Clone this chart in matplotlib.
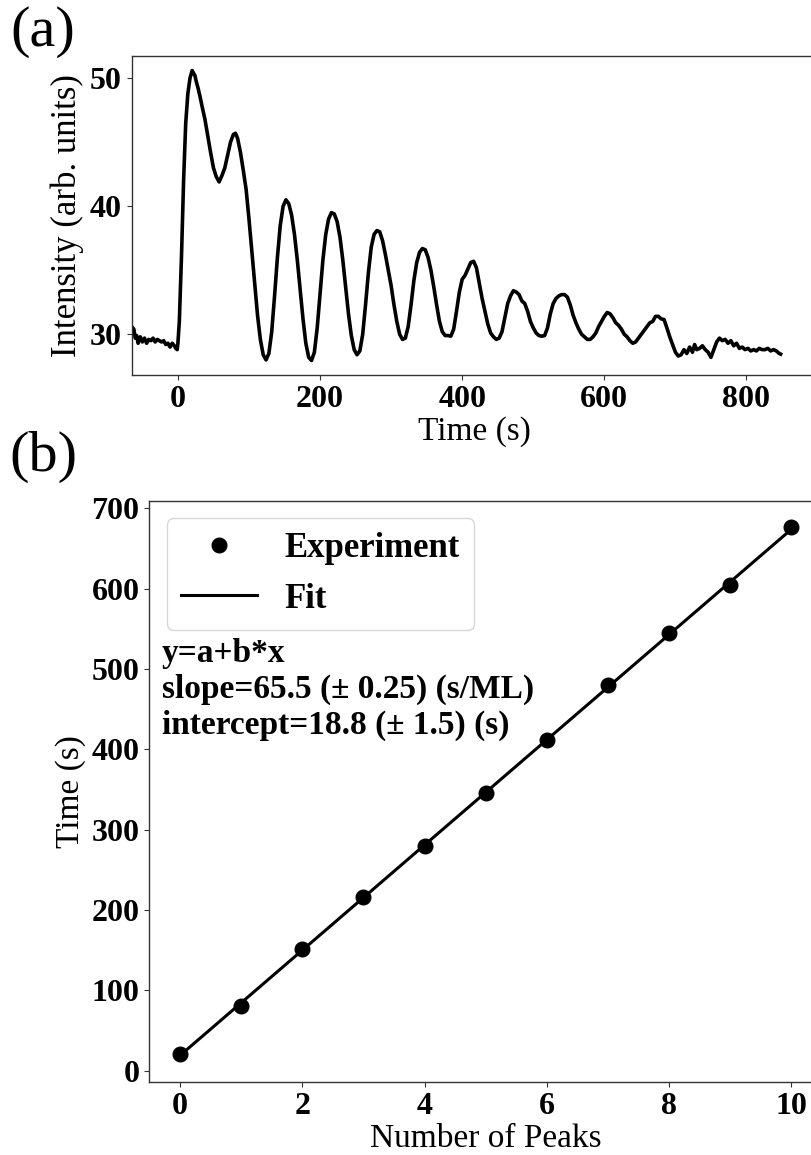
import matplotlib
matplotlib.use("Agg")
import matplotlib.pyplot as plt
import numpy as np

plt.rcParams['font.family'] = ['Liberation Serif', 'DejaVu Serif']

# panel (a): intensity trace
time_s = [-65, -62, -60, -58, -56, -53, -50, -47, -44, -41, -38, -35, -32, -29, -26, -23, -20, -17, -14, -11, -8, -5, -3, -1, 0,
          2, 5, 8, 11, 14, 17, 20, 22, 24, 26, 28, 31, 34, 38, 42, 46, 50, 54, 58, 62, 66, 70, 74, 78, 81, 84, 88, 92, 96,
          100, 104, 108, 112, 116, 120, 124, 128, 132, 136, 140, 144, 148, 152, 156, 160, 164, 168, 172, 176, 180, 184, 188,
          192, 196, 200, 204, 208, 212, 216, 220, 224, 228, 232, 236, 240, 244, 248, 252, 256, 260, 264, 268, 272, 276, 280,
          284, 288, 292, 296, 300, 304, 308, 312, 316, 320, 324, 328, 332, 336, 340, 344, 348, 352, 356, 360, 364, 368, 372,
          376, 380, 384, 388, 392, 396, 400, 404, 408, 412, 416, 420, 424, 428, 432, 436, 440, 444, 448, 452, 456, 460, 464,
          468, 472, 476, 480, 484, 488, 492, 496, 500, 504, 508, 512, 516, 520, 524, 528, 532, 536, 540, 544, 548, 552, 556,
          560, 564, 568, 572, 576, 580, 584, 588, 592, 596, 600, 604, 608, 612, 616, 620, 624, 628, 632, 636, 640, 644, 648,
          652, 656, 660, 664, 668, 672, 676, 680, 684, 688, 692, 696, 700, 704, 708, 712, 716, 720, 724, 727, 730, 734, 738,
          742, 746, 750, 754, 758, 762, 766, 770, 774, 778, 782, 786, 790, 794, 798, 802, 806, 810, 814, 818, 822, 826, 830,
          834, 838, 842, 846, 848]
intensity = [30.6, 30.4, 29.7, 29.9, 29.3, 29.8, 29.4, 29.7, 29.3, 29.6, 29.5, 29.7, 29.4, 29.6, 29.5, 29.4, 29.5, 29.2, 29.3, 29.0, 29.3, 29.1, 28.9, 28.8, 29.3,
             31.0, 36.0, 42.0, 46.5, 48.8, 50.0, 50.6, 50.4, 50.2, 49.7, 49.3, 48.6, 47.8, 46.8, 45.5, 44.2, 43.0, 42.3, 41.9, 42.4, 43.0, 44.0, 45.0, 45.6, 45.7, 45.3, 44.2, 42.8, 41.3,
             39.0, 36.5, 34.0, 31.5, 29.6, 28.4, 28.0, 28.5, 30.2, 33.0, 36.0, 38.5, 40.0, 40.5, 40.2, 39.3, 37.8, 35.8, 33.5, 31.2, 29.3, 28.2, 27.95,
             28.6, 30.5, 33.2, 35.8, 37.8, 39.0, 39.5, 39.4, 38.8, 37.6, 35.8, 33.7, 31.6, 29.9, 28.8, 28.4, 28.7, 30.0, 32.3, 34.8, 36.8, 37.8, 38.1,
             38.0, 37.3, 36.2, 35.0, 33.8, 32.3, 31.0, 30.0, 29.6, 29.7, 30.6, 32.3, 34.2, 35.6, 36.4, 36.7, 36.6, 36.0, 35.0, 33.7, 32.3, 31.0, 30.2,
             29.9, 29.9, 29.85, 30.4, 31.8, 33.3, 34.3, 34.6, 35.1, 35.6, 35.7, 35.2, 34.0, 32.8, 31.8, 30.8, 30.1, 29.8, 29.6, 29.7, 30.2, 31.3, 32.4,
             33.0, 33.4, 33.3, 33.1, 32.6, 32.4, 31.8, 31.0, 30.5, 30.1, 29.9, 29.85, 29.9, 30.5, 31.6, 32.4, 32.8, 33.0, 33.1, 33.1, 32.9, 32.3, 31.5,
             30.9, 30.4, 30.0, 29.8, 29.6, 29.6, 29.8, 30.1, 30.6, 31.0, 31.4, 31.7, 31.6, 31.3, 30.9, 30.7, 30.4, 30.0, 29.8, 29.5, 29.3, 29.4, 29.7,
             30.0, 30.3, 30.6, 30.9, 31.0, 31.4, 31.4, 31.2, 31.15, 30.5, 29.8, 29.2, 28.6, 28.3, 28.4, 28.8, 28.5, 29.0, 28.6, 29.2, 28.8, 28.9, 29.1,
             28.8, 28.6, 28.2, 28.8, 29.4, 29.7, 29.5, 29.6, 29.3, 29.5, 29.1, 29.3, 28.9, 29.0, 28.8, 28.9, 28.7, 28.8, 28.7, 28.9, 28.8, 28.8, 28.9,
             28.7, 28.8, 28.7, 28.5, 28.45]

# panel (b): peak positions and the linear fit
peak_number = [0, 1, 2, 3, 4, 5, 6, 7, 8, 9, 10]
peak_time = [21, 80, 151, 216, 280, 346, 412, 480, 545, 604, 676]
fit_a = 18.8
fit_b = 65.5
fit_text = "y=a+b*x\nslope=65.5 (\u00b1 0.25) (s/ML)\nintercept=18.8 (\u00b1 1.5) (s)"

tick_fs = 23
label_fs = 24

fig = plt.figure(figsize=(8.11, 11.55), dpi=100)

ax1 = fig.add_axes([0.1624, 0.6753, 0.8457, 0.2762])
ax1.plot(time_s, intensity, color='black', lw=2.6)
ax1.set_xlim(-65, 900)
ax1.set_xticks([0, 200, 400, 600, 800])
ax1.set_yticks([30, 40, 50])
ax1.set_xlabel('Time (s)', fontsize=label_fs, labelpad=2)
ax1.set_ylabel('Intensity (arb. units)', fontsize=label_fs + 1, labelpad=4)

ax2 = fig.add_axes([0.1841, 0.0632, 0.8295, 0.5030])
ax2.plot(peak_number, peak_time, 'o', color='black', markersize=10.5, label='Experiment')
xfit = np.array([peak_number[0], peak_number[-1]])
ax2.plot(xfit, fit_a + fit_b * xfit, color='black', lw=2.2, label='Fit')
ax2.set_xticks([0, 2, 4, 6, 8, 10])
ax2.set_yticks([0, 100, 200, 300, 400, 500, 600, 700])
ax2.set_xlabel('Number of Peaks', fontsize=label_fs, labelpad=2)
ax2.set_ylabel('Time (s)', fontsize=label_fs)
ax2.legend(loc='upper left', prop={'weight': 'bold', 'size': 25}, handlelength=2.2)
ax2.text(0.019, 0.765, fit_text, transform=ax2.transAxes, fontsize=24,
         fontweight='bold', va='top', ha='left')

for ax in (ax1, ax2):
    for s in ax.spines.values():
        s.set_color('#333333')
        s.set_linewidth(1.0)
    ax.tick_params(colors='#333333', labelcolor='black', labelsize=tick_fs)
    for lab in ax.get_xticklabels() + ax.get_yticklabels():
        lab.set_fontweight('bold')

fig.text(0.013, 0.995, '(a)', fontsize=42, va='top', ha='left')
fig.text(0.011, 0.627, '(b)', fontsize=42, va='top', ha='left')

fig.savefig('out.png', dpi=100)
